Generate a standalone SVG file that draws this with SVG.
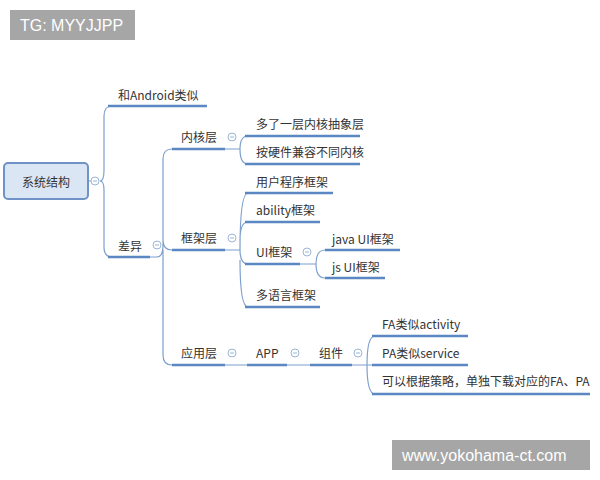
<svg xmlns="http://www.w3.org/2000/svg" width="600" height="480" viewBox="0 0 600 480">
<style>
.t{font-family:"Noto Sans CJK SC","Liberation Sans",sans-serif;font-size:12px;fill:#333}
.u{stroke:#5b87c2;stroke-width:2.5;fill:none}
.c{stroke:#7d9fce;stroke-width:1.2;fill:none}
.cc{fill:#fff;stroke:#9bb4d8;stroke-width:1}
.m{stroke:#9bb4d8;stroke-width:1}
</style>
<rect width="600" height="480" fill="#fff"/>
<g id="connectors">
<path class="c" d="M88,181 H95 M100,181 Q104,181 104,170 V116 Q104,106 112,106 M100,181 Q104,181 104,190 V247 Q104,257 112,257"/>
<path class="c" d="M150,257 H157 Q163,257 163,245 V159 Q163,149 172,149 M163,245 V240 Q163,250 172,250 M163,250 V355 Q163,365 172,365"/>
<path class="c" d="M225,149 H240 Q240,136 248,136 M240,149 Q240,164 248,164"/>
<path class="c" d="M225,250 H240 Q240,193 248,193 M240,240 Q240,222 248,222 M240,250 Q240,264 248,264 M240,260 Q240,307 248,307"/>
<path class="c" d="M300,264 H316 Q316,250 325,250 M316,264 Q316,278 325,278"/>
<path class="c" d="M225,365 H247 M287,365 H310 M352,365 H367 Q367,336 375,336 M367,365 H372 M367,365 Q367,394 375,394"/>
</g>
<g id="root"><rect x="4" y="163" width="84" height="36" rx="4" fill="#dbe6f4" stroke="#6f93c6" stroke-width="2"/><text class="t" x="46" y="187" font-size="16" text-anchor="middle">系统结构</text><circle class="cc" cx="95" cy="181" r="4"/><path class="m" d="M93,181h4"/></g>
<g id="n-android"><path class="u" d="M108,106 H207"/><text class="t" x="118" y="100">和Android类似</text></g>
<g id="n-diff"><path class="u" d="M108,257 H150"/><text class="t" x="118" y="251">差异</text><circle class="cc" cx="157" cy="245" r="4"/><path class="m" d="M155,245h4"/></g>
<g id="n-kernel"><path class="u" d="M172,149 H225"/><text class="t" x="181" y="142">内核层</text><circle class="cc" cx="232" cy="137" r="4"/><path class="m" d="M230,137h4"/></g>
<g id="n-k1"><path class="u" d="M245,136 H360"/><text class="t" x="256" y="129">多了一层内核抽象层</text></g>
<g id="n-k2"><path class="u" d="M245,164 H360"/><text class="t" x="256" y="157">按硬件兼容不同内核</text></g>
<g id="n-frame"><path class="u" d="M172,250 H225"/><text class="t" x="181" y="243">框架层</text><circle class="cc" cx="232" cy="238" r="4"/><path class="m" d="M230,238h4"/></g>
<g id="n-f1"><path class="u" d="M245,193 H333"/><text class="t" x="256" y="187">用户程序框架</text></g>
<g id="n-f2"><path class="u" d="M245,222 H320"/><text class="t" x="256" y="215">ability框架</text></g>
<g id="n-ui"><path class="u" d="M245,264 H300"/><text class="t" x="256" y="257">UI框架</text><circle class="cc" cx="307" cy="252" r="4"/><path class="m" d="M305,252h4"/></g>
<g id="n-java"><path class="u" d="M325,250 H400"/><text class="t" x="332" y="244">java UI框架</text></g>
<g id="n-js"><path class="u" d="M325,278 H385"/><text class="t" x="332" y="272">js UI框架</text></g>
<g id="n-f4"><path class="u" d="M245,307 H320"/><text class="t" x="256" y="300">多语言框架</text></g>
<g id="n-app-layer"><path class="u" d="M172,365 H225"/><text class="t" x="181" y="358">应用层</text><circle class="cc" cx="232" cy="353" r="4"/><path class="m" d="M230,353h4"/></g>
<g id="n-app"><path class="u" d="M247,365 H287"/><text class="t" x="256" y="358">APP</text><circle class="cc" cx="295" cy="353" r="4"/><path class="m" d="M293,353h4"/></g>
<g id="n-comp"><path class="u" d="M310,365 H352"/><text class="t" x="319" y="358">组件</text><circle class="cc" cx="358" cy="353" r="4"/><path class="m" d="M356,353h4"/></g>
<g id="n-fa"><path class="u" d="M372,336 H468"/><text class="t" x="382" y="329">FA类似activity</text></g>
<g id="n-pa"><path class="u" d="M372,365 H468"/><text class="t" x="382" y="358">PA类似service</text></g>
<g id="n-dl"><path class="u" d="M372,394 H590"/><text class="t" x="382" y="386">可以根据策略，单独下载对应的FA、PA</text></g>
<rect x="10" y="10" width="125" height="30" fill="#a6a6a6"/><text x="20" y="31" font-family="Liberation Sans,sans-serif" font-size="16" fill="#fff">TG: MYYJJPP</text>
<rect x="392" y="440" width="198" height="30" fill="#a6a6a6"/><text x="402" y="461" font-family="Liberation Sans,sans-serif" font-size="16" fill="#fff">www.yokohama-ct.com</text>
</svg>
